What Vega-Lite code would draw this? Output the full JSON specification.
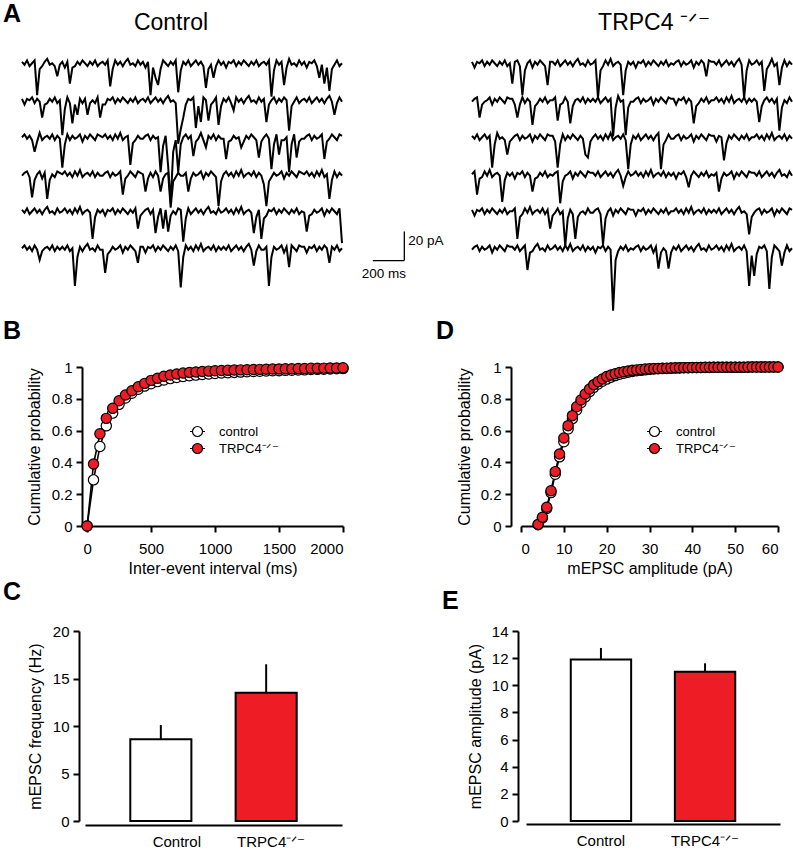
{
  "$schema": "https://vega.github.io/schema/vega-lite/v6.json",
  "padding": {"left": 3, "top": 2, "right": 2, "bottom": 0},
  "background": "white",
  "spacing": 4,
  "resolve": {"scale": {"fill": "independent"}, "legend": {"fill": "independent"}},
  "datasets": {
    "time": [{"k": 1, "t": [0,16,32,48,64,80,96,112,128,144,160,176,192,208,224,240,256,272,288,304,320,336,352,368,384,400,416,432,448,464,480,496,512,528,544,560,576,592,608,624,640,656,672,688,704,720,736,752,768,784,800,816,832,848,864,880,896,912,928,944,960,976,992,1008,1024,1040,1056,1072,1088,1104,1120,1136,1152,1168,1184,1200,1216,1232,1248,1264,1280,1296,1312,1328,1344,1360,1376,1392,1408,1424,1440,1456,1472,1488,1504,1520,1536,1552,1568,1584,1600,1616,1632,1648,1664,1680,1696,1712,1728,1744,1760,1776,1792,1808,1824,1840,1856,1872,1888,1904,1920,1936,1952,1968,1984,2000,2016,2032]}],
    "traces": [
      {"g": "Control", "r": 1, "k": 1, "v": [1,-1,2,-2,0,2,-22,-4,-2,1,3,-1,0,-2,-9,-1, 1,-3,1,-14,-3,-2,1,-1,2,0,-2,1,-1,2,-2,0, 1,-1,2,-16,-4,2,-1,1,-2,1,3,-1,0,-2,2,-1, 1,-3,1,-22,-3,-10,-15,-4,2,0,-2,1,-1,2,-20,-5, 1,-1,2,-2,0,2,-1,1,-2,-17,-4,-1,-10,-2,2,-1, 1,-3,1,0,2,-2,1,-1,2,0,-2,1,-1,2,-2,0, 1,-1,2,-23,-5,2,-1,1,-15,-3,3,-1,0,-2,2,-1, 1,-3,1,0,2,-2,-10,-1,-14,-3,-19,-4,-1,2,-2,0]},
      {"g": "Control", "r": 2, "k": 1, "v": [1,-3,1,0,2,-2,1,-1,-12,-3,-2,1,-1,2,-2,0, -24,-6,2,-2,-16,-3,-10,1,-2,1,-10,-2,0,-2,2,-12, -3,-3,1,0,2,-2,1,-1,2,0,-2,1,-1,2,-2,0, 1,-1,2,-2,0,2,-1,1,-2,1,3,-1,0,-2,-30,-20, -12,-3,1,0,2,-19,-4,-15,2,0,-14,-3,-1,2,-17,-4, 1,-1,2,-2,-7,2,-1,1,-2,1,3,-1,0,-2,2,-1, 1,-15,-3,0,2,-2,1,-1,2,0,-21,-4,-1,2,-2,0, 1,-1,2,-2,0,2,-1,1,-2,1,3,-1,-10,-2,2,-1]},
      {"g": "Control", "r": 3, "k": 1, "v": [0,2,-1,1,-2,-10,-3,3,-2,0,1,-1,2,-2,1,-1, -21,-5,2,-2,1,-1,0,2,-3,1,-1,2,0,-2,2,1, 0,2,-1,1,-2,2,-1,3,-2,0,1,-19,-4,-2,1,-1, -1,1,2,-2,1,-1,0,-24,-6,1,-20,-45,-10,-2,-24,-5, 0,2,-1,1,-13,-3,-1,3,-2,-7,1,-1,2,-2,1,-1, -1,-15,-3,-2,1,-1,0,-7,-3,1,-1,2,0,-2,-14,-3, 0,2,-1,-22,-5,2,-12,-2,-2,0,-24,-5,2,-14,-3,-1, -1,1,2,-2,1,-1,0,2,-15,-3,-1,2,0,-2,2,1]},
      {"g": "Control", "r": 4, "k": 1, "v": [-1,1,2,-2,-16,-4,0,2,-3,1,-17,-4,0,-2,2,1, 0,2,-1,1,-2,2,-1,3,-2,0,1,-1,2,-2,1,-1, -1,1,2,-2,1,-1,0,2,-14,-3,-1,2,0,-2,2,1, 0,-12,-3,1,-2,2,-1,-12,-3,0,1,-23,-5,-2,1,-1, -1,1,-12,-3,1,-1,0,2,-3,1,-1,2,0,-2,-22,-5, 0,2,-1,1,-2,2,-1,3,-2,0,1,-1,2,-2,1,-1, -7,-22,-5,-2,1,-1,0,2,-3,1,-1,2,0,-2,2,1, 0,2,-1,1,-2,2,-1,3,-2,0,-17,-4,2,-2,1,-1]},
      {"g": "Control", "r": 5, "k": 1, "v": [1,-1,2,-2,0,2,-1,1,-2,1,3,-1,0,-2,2,-1, 0,2,-1,1,-2,2,-1,3,-2,0,1,-1,-19,-4,1,-1, 1,-3,1,0,2,-2,1,-1,2,0,-2,1,-1,2,-12,-3, -1,1,2,-2,1,-15,-4,2,-12,1,-14,-3,0,-2,2,1, -21,-5,2,-2,0,2,-1,1,-2,1,3,-1,0,-2,2,-1, 0,2,-1,1,-2,2,-1,3,-2,0,1,-1,-15,-4,1,-19, -5,-3,1,0,2,-2,1,-1,2,0,-2,1,-1,2,-2,0, -1,-14,-3,-2,1,-1,0,2,-3,1,-1,2,0,-2,2,-22]},
      {"g": "Control", "r": 6, "k": 1, "v": [0,2,-1,1,-2,2,-1,-8,-2,0,1,-1,2,-2,1,-1, 1,-1,2,-2,0,-26,-6,1,-2,1,3,-1,0,-2,2,-1, -1,-17,-4,-2,1,-1,0,2,-3,1,-1,2,0,-2,-10,1, 1,-3,1,0,2,-2,1,-1,2,0,-2,1,-1,2,-2,-27, -6,2,-1,1,-2,2,-1,3,-2,0,1,-1,2,-2,1,-1, 1,-1,2,-2,0,2,-1,1,-2,1,3,-1,-12,-2,2,-1, -1,1,-26,-6,1,-1,0,2,-3,1,-13,2,0,-2,2,1, 1,-3,1,0,2,-2,1,-1,2,0,-10,1,-1,2,-2,0]},
      {"g": "TRPC4", "r": 1, "k": 1, "v": [1,-3,1,0,2,-2,1,-1,2,0,-2,1,-1,2,-2,0, -14,1,2,-2,-22,-5,0,2,-3,1,-1,2,0,-2,-15,1, 1,-1,2,-2,0,2,-1,1,-2,1,3,-1,0,-2,2,-1, 0,2,-24,-5,-2,2,-1,3,-2,0,1,-1,-22,-5,1,-1, 1,-3,1,0,2,-2,1,-1,2,0,-2,1,-1,2,-2,0, -1,1,2,-2,1,-1,0,2,-3,1,-1,2,0,-9,2,1, 1,-1,2,-2,0,2,-1,1,-2,1,3,-1,-24,-5,2,-1, 0,2,-1,1,-19,-4,-1,3,-2,0,-15,-3,2,-2,1,-1]},
      {"g": "TRPC4", "r": 2, "k": 1, "v": [-1,1,2,-12,-3,-1,0,2,-3,1,-1,2,0,-2,2,1, 1,-3,-12,-3,2,-2,1,-1,-17,-4,-2,1,-1,2,-2,0, 0,2,-14,-3,-2,2,-1,-16,-4,0,1,-1,2,-2,1,-1, 1,-1,2,-2,0,2,-1,1,-25,-5,3,-1,0,-24,-5,-1, -1,1,2,-2,1,-1,0,2,-3,1,-1,2,0,-2,2,1, 1,-3,1,0,2,-2,1,-1,-16,-4,-2,1,-1,2,-2,0, 0,2,-1,1,-2,2,-1,3,-2,0,1,-1,2,-2,1,-1, 1,-1,-15,-4,0,2,-1,1,-2,1,-21,-5,0,-2,2,-1]},
      {"g": "TRPC4", "r": 3, "k": 1, "v": [1,-1,2,-2,0,2,-1,1,-21,-5,3,-1,0,-2,-12,-3, -1,1,2,-2,1,-1,0,2,-3,1,-1,2,0,-2,2,1, 1,-3,-21,-5,2,-2,1,-1,2,0,-2,1,-1,-12,-14,-3, 0,2,-1,1,-2,2,-1,3,-2,0,1,-1,2,-2,-22,-5, 1,-1,2,-2,0,2,-1,1,-2,1,3,-22,-5,-2,2,-1, -1,1,2,-2,1,-1,0,2,-3,1,-1,2,0,-2,2,1, 1,-3,1,0,-16,-4,1,-1,2,0,-2,1,-1,2,-2,0, 0,2,-1,1,-2,2,-1,3,-2,0,1,-1,2,-2,1,-1]},
      {"g": "TRPC4", "r": 4, "k": 1, "v": [0,2,-14,-3,-2,2,-1,3,-2,0,1,-1,-19,-4,1,-1, 1,-3,1,0,2,-2,1,-1,-12,-3,-2,1,-1,2,-2,0, -1,1,2,-20,-5,-1,0,2,-3,1,-1,2,0,-2,2,1, 1,-1,2,-2,0,2,-1,1,-2,1,3,-1,-8,-2,2,-1, 0,2,-1,1,-2,2,-1,3,-2,0,1,-1,2,-2,1,-1, 1,-3,1,0,2,-2,-9,-1,2,0,-2,1,-1,2,-2,0, -1,1,-12,-3,1,-1,0,2,-3,1,-1,2,0,-2,2,1, 1,-1,2,-2,0,2,-1,1,-2,1,3,-1,0,-2,2,-1]},
      {"g": "TRPC4", "r": 5, "k": 1, "v": [1,-3,1,0,2,-2,1,-1,2,0,-2,1,-1,2,-2,0, 0,2,-19,-4,-2,2,-1,3,-2,0,1,-1,2,-2,1,-12, -3,-1,2,-2,0,-24,-5,1,-2,-19,-4,-1,0,-2,2,-1, -1,1,2,-2,-23,-5,0,2,-3,1,-1,2,0,-2,2,1, 1,-3,1,0,2,-2,1,-1,2,0,-2,1,-1,2,-2,0, 0,2,-1,1,-2,2,-1,3,-2,0,1,-1,2,-2,1,-1, 1,-1,2,-2,0,2,-1,1,-2,1,3,-1,0,-2,-16,-4, -1,1,2,-2,1,-1,0,2,-3,1,-1,2,0,-2,2,1]},
      {"g": "TRPC4", "r": 6, "k": 1, "v": [-1,1,2,-2,1,-1,0,2,-3,1,-1,2,0,-2,2,1, 1,-1,2,-2,0,2,-15,-3,-2,1,3,-1,0,-2,2,-1, 0,2,-1,1,-2,2,-1,3,-2,0,1,-1,2,-2,1,-1, 1,-3,1,0,2,-2,1,-1,-43,-8,-2,1,-1,2,-2,0, -1,1,2,-2,1,-1,0,2,-3,1,-14,-3,0,-2,-14,-3, 1,-1,2,-2,0,2,-1,1,-2,1,3,-1,0,-2,2,-1, 0,2,-1,1,-2,2,-1,3,-2,0,1,-1,2,-2,-26,-5, -19,-4,1,0,2,-2,-28,-6,2,0,-2,-12,-3,2,-2,0]}
    ],
    "cdfB": [
      {"g": "control", "x": [0,50,100,150,200,250,300,350,400,450,500,550,600,650,700,750,800,850,900,950,1000,1050,1100,1150,1200,1250,1300,1350,1400,1450,1500,1550,1600,1650,1700,1750,1800,1850,1900,1950,2000], "p": [0,0.29,0.5,0.63,0.71,0.765,0.805,0.835,0.86,0.88,0.895,0.908,0.918,0.927,0.934,0.94,0.945,0.949,0.953,0.956,0.959,0.962,0.964,0.966,0.968,0.97,0.972,0.973,0.975,0.976,0.977,0.979,0.98,0.981,0.982,0.984,0.985,0.986,0.988,0.989,0.99]},
      {"g": "TRPC4", "x": [0,50,100,150,200,250,300,350,400,450,500,550,600,650,700,750,800,850,900,950,1000,1050,1100,1150,1200,1250,1300,1350,1400,1450,1500,1550,1600,1650,1700,1750,1800,1850,1900,1950,2000], "p": [0,0.39,0.58,0.677,0.74,0.788,0.824,0.851,0.876,0.897,0.916,0.929,0.942,0.95,0.956,0.962,0.966,0.969,0.972,0.974,0.976,0.978,0.979,0.981,0.982,0.983,0.984,0.985,0.986,0.987,0.988,0.989,0.989,0.99,0.991,0.992,0.992,0.993,0.994,0.994,0.995]}
    ],
    "cdfD": [
      {"g": "control", "x": [4,5,6,7,8,9,10,11,12,13,14,15,16,17,18,19,20,21,22,23,24,25,26,27,28,29,30,31,32,33,34,35,36,37,38,39,40,41,42,43,44,45,46,47,48,49,50,51,52,53,54,55,56,57,58,59,60], "p": [0.008,0.05,0.11,0.21,0.325,0.435,0.53,0.61,0.675,0.73,0.775,0.812,0.845,0.872,0.893,0.91,0.924,0.936,0.946,0.954,0.961,0.967,0.972,0.976,0.979,0.982,0.985,0.987,0.989,0.99,0.991,0.992,0.993,0.994,0.995,0.995,0.996,0.996,0.997,0.997,0.997,0.998,0.998,0.998,0.999,0.999,0.999,0.999,0.999,0.999,1,1,1,1,1,1,1]},
      {"g": "TRPC4", "x": [4,5,6,7,8,9,10,11,12,13,14,15,16,17,18,19,20,21,22,23,24,25,26,27,28,29,30,31,32,33,34,35,36,37,38,39,40,41,42,43,44,45,46,47,48,49,50,51,52,53,54,55,56,57,58,59,60], "p": [0.01,0.055,0.118,0.222,0.342,0.453,0.553,0.631,0.694,0.75,0.792,0.83,0.862,0.889,0.908,0.925,0.94,0.95,0.958,0.965,0.97,0.975,0.979,0.982,0.985,0.987,0.989,0.99,0.991,0.992,0.993,0.994,0.995,0.995,0.996,0.996,0.997,0.997,0.997,0.998,0.998,0.998,0.998,0.999,0.999,0.999,0.999,0.999,0.999,1,1,1,1,1,1,1,1]}
    ]
  },
  "vconcat": [
    {
      "spacing": -6,
      "hconcat": [
        {"width": 17, "height": 1, "title": {"text": "A", "offset": 29}, "data": {"values": []}, "mark": {"type": "point", "opacity": 0}, "encoding": {}},
        {
          "spacing": 10,
          "hconcat": [
            {
              "title": {"text": "Control", "anchor": "middle", "frame": "bounds", "fontSize": 23, "fontWeight": "normal", "offset": 20, "dx": -11},
              "data": {"name": "traces"},
              "transform": [
                {"filter": "datum.g == 'Control'"},
                {"lookup": "k", "from": {"data": {"name": "time"}, "key": "k", "fields": ["t"]}},
                {"flatten": ["t", "v"]}
              ],
              "facet": {"row": {"field": "r", "type": "ordinal", "header": {"labels": false, "title": null}}},
              "bounds": "flush",
              "spacing": 0,
              "spec": {
                "width": 320,
                "height": 37,
                "mark": {"type": "line", "clip": false, "color": "black", "strokeWidth": 2},
                "encoding": {
                  "x": {"field": "t", "type": "quantitative", "scale": {"domain": [0, 2032], "nice": false, "zero": false}, "axis": null},
                  "y": {"field": "v", "type": "quantitative", "scale": {"domain": [-20.5, 5], "nice": false, "zero": false}, "axis": null}
                }
              }
            },
            {
              "width": 102,
              "height": 222,
              "layer": [
                {
                  "data": {"values": [{"x": 107, "x2": 307, "y": 12, "y2": 12}, {"x": 307, "x2": 307, "y": 12, "y2": 32}]},
                  "mark": {"type": "rule", "color": "black", "strokeWidth": 1.3},
                  "encoding": {
                    "x": {"field": "x", "type": "quantitative", "scale": {"domain": [0, 648], "nice": false, "zero": false}, "axis": null},
                    "x2": {"field": "x2"},
                    "y": {"field": "y", "type": "quantitative", "scale": {"domain": [0, 153], "nice": false, "zero": false}, "axis": null},
                    "y2": {"field": "y2"}
                  }
                },
                {
                  "data": {"values": [{"x": 107, "y": 12, "lab": "200 ms"}]},
                  "mark": {"type": "text", "align": "left", "baseline": "top", "dx": -11, "dy": 6, "fontSize": 13.5},
                  "encoding": {
                    "x": {"field": "x", "type": "quantitative"},
                    "y": {"field": "y", "type": "quantitative"},
                    "text": {"field": "lab"}
                  }
                },
                {
                  "data": {"values": [{"x": 307, "y": 32, "lab": "20 pA"}]},
                  "mark": {"type": "text", "align": "left", "baseline": "top", "dx": 4, "dy": 2, "fontSize": 13.5},
                  "encoding": {
                    "x": {"field": "x", "type": "quantitative"},
                    "y": {"field": "y", "type": "quantitative"},
                    "text": {"field": "lab"}
                  }
                }
              ]
            },
            {
              "title": {"text": "TRPC4 ⁻ᐟ⁻", "anchor": "middle", "frame": "bounds", "fontSize": 23, "fontWeight": "normal", "offset": 20, "dx": 22},
              "data": {"name": "traces"},
              "transform": [
                {"filter": "datum.g == 'TRPC4'"},
                {"lookup": "k", "from": {"data": {"name": "time"}, "key": "k", "fields": ["t"]}},
                {"flatten": ["t", "v"]}
              ],
              "facet": {"row": {"field": "r", "type": "ordinal", "header": {"labels": false, "title": null}}},
              "bounds": "flush",
              "spacing": 0,
              "spec": {
                "width": 320,
                "height": 37,
                "mark": {"type": "line", "clip": false, "color": "black", "strokeWidth": 2},
                "encoding": {
                  "x": {"field": "t", "type": "quantitative", "scale": {"domain": [0, 2032], "nice": false, "zero": false}, "axis": null},
                  "y": {"field": "v", "type": "quantitative", "scale": {"domain": [-20.5, 5], "nice": false, "zero": false}, "axis": null}
                }
              }
            }
          ]
        }
      ]
    },
    {
      "spacing": 4,
      "resolve": {"scale": {"fill": "independent"}, "legend": {"fill": "independent"}},
      "hconcat": [
        {"width": 17, "height": 1, "title": {"text": "B", "offset": 23}, "data": {"values": []}, "mark": {"type": "point", "opacity": 0}, "encoding": {}},
        {
          "spacing": 85,
          "resolve": {"scale": {"fill": "independent"}, "legend": {"fill": "independent"}},
          "hconcat": [
            {
              "width": 261,
              "height": 159,
              "data": {"name": "cdfB"},
              "transform": [{"flatten": ["x", "p"]}],
              "encoding": {
                "x": {"field": "x", "type": "quantitative", "scale": {"domain": [-40, 2000], "nice": false, "zero": false}, "axis": {"values": [0, 500, 1000, 1500, 2000], "format": "d", "title": "Inter-event interval (ms)"}},
                "y": {"field": "p", "type": "quantitative", "scale": {"domain": [0, 1], "nice": false}, "axis": {"values": [0, 0.2, 0.4, 0.6, 0.8, 1], "format": "~g", "title": "Cumulative probability", "titlePadding": 9}}
              },
              "layer": [
                {"mark": {"type": "line", "color": "black", "strokeWidth": 1.6}, "encoding": {"detail": {"field": "g"}}},
                {
                  "mark": {"type": "point", "shape": "circle", "size": 105, "filled": true, "stroke": "black", "strokeWidth": 1.2, "opacity": 1},
                  "encoding": {
                    "fill": {"field": "g", "type": "nominal", "scale": {"domain": ["control", "TRPC4"], "range": ["white", "#ee1c25"]},
                      "legend": {"orient": "none", "legendX": 109, "legendY": 58, "title": null, "padding": 0, "symbolType": "M-1.5,0L-1,0M1,0L1.5,0M-1,0A1,1 0 1,1 1,0A1,1 0 1,1 -1,0Z", "symbolSize": 100, "symbolStrokeColor": "black", "symbolStrokeWidth": 1.2, "labelFontSize": 13, "labelColor": "black", "labelOffset": 15, "rowPadding": 2, "labelExpr": "datum.label == 'TRPC4' ? 'TRPC4⁻ᐟ⁻' : datum.label"}}
                  }
                }
              ]
            },
            {
              "title": {"text": "D", "dx": -85, "offset": 15},
              "width": 257,
              "height": 159,
              "data": {"name": "cdfD"},
              "transform": [{"flatten": ["x", "p"]}],
              "encoding": {
                "x": {"field": "x", "type": "quantitative", "scale": {"domain": [0, 60], "nice": false, "zero": false}, "axis": {"values": [0, 10, 20, 30, 40, 50, 60], "title": "mEPSC amplitude (pA)"}},
                "y": {"field": "p", "type": "quantitative", "scale": {"domain": [0, 1], "nice": false}, "axis": {"values": [0, 0.2, 0.4, 0.6, 0.8, 1], "format": "~g", "title": "Cumulative probability", "offset": 10, "titlePadding": 8}}
              },
              "layer": [
                {"mark": {"type": "line", "color": "black", "strokeWidth": 1.6}, "encoding": {"detail": {"field": "g"}}},
                {
                  "mark": {"type": "point", "shape": "circle", "size": 105, "filled": true, "stroke": "black", "strokeWidth": 1.2, "opacity": 1},
                  "encoding": {
                    "fill": {"field": "g", "type": "nominal", "scale": {"domain": ["control", "TRPC4"], "range": ["white", "#ee1c25"]},
                      "legend": {"orient": "none", "legendX": 127, "legendY": 58, "title": null, "padding": 0, "symbolType": "M-1.5,0L-1,0M1,0L1.5,0M-1,0A1,1 0 1,1 1,0A1,1 0 1,1 -1,0Z", "symbolSize": 100, "symbolStrokeColor": "black", "symbolStrokeWidth": 1.2, "labelFontSize": 13, "labelColor": "black", "labelOffset": 15, "rowPadding": 2, "labelExpr": "datum.label == 'TRPC4' ? 'TRPC4⁻ᐟ⁻' : datum.label"}}
                  }
                }
              ]
            }
          ]
        }
      ]
    },
    {
      "spacing": 5,
      "resolve": {"scale": {"fill": "independent"}, "legend": {"fill": "independent"}},
      "hconcat": [
        {"width": 17, "height": 1, "title": {"text": "C", "offset": 26}, "data": {"values": []}, "mark": {"type": "point", "opacity": 0}, "encoding": {}},
        {
          "spacing": 100,
          "resolve": {"scale": {"fill": "independent"}, "legend": {"fill": "independent"}},
          "hconcat": [
            {
              "width": 257,
              "height": 190,
              "data": {"values": [{"g": "Control", "m": 8.6, "hi": 10.1}, {"g": "TRPC4", "m": 13.5, "hi": 16.5}]},
              "encoding": {
                "x": {"field": "g", "type": "nominal", "sort": ["Control", "TRPC4"], "scale": {"paddingInner": 0.42, "paddingOuter": 0.43}, "axis": {"title": null, "ticks": false, "labelAngle": 0, "labelPadding": 9, "offset": 4, "labelOffset": {"condition": {"test": "datum.value == 'Control'", "value": 16}, "value": 5}, "labelExpr": "datum.label == 'TRPC4' ? 'TRPC4⁻ᐟ⁻' : datum.label"}},
                "y": {"field": "m", "type": "quantitative", "scale": {"domain": [0, 20], "nice": false}, "axis": {"values": [0, 5, 10, 15, 20], "title": "mEPSC frequency (Hz)", "offset": 6, "titlePadding": 9, "labelOverlap": false}}
              },
              "layer": [
                {"mark": {"type": "rule", "color": "black", "strokeWidth": 2}, "encoding": {"y2": {"field": "hi"}}},
                {
                  "mark": {"type": "bar", "stroke": "black", "strokeWidth": 2},
                  "encoding": {"fill": {"field": "g", "type": "nominal", "scale": {"domain": ["Control", "TRPC4"], "range": ["white", "#ee1c25"]}, "legend": null}}
                }
              ]
            },
            {
              "title": {"text": "E", "dx": -84, "offset": 10},
              "width": 254,
              "height": 190,
              "data": {"values": [{"g": "Control", "m": 11.9, "hi": 12.75}, {"g": "TRPC4", "m": 11.0, "hi": 11.62}]},
              "encoding": {
                "x": {"field": "g", "type": "nominal", "sort": ["Control", "TRPC4"], "scale": {"paddingInner": 0.42, "paddingOuter": 0.43}, "axis": {"title": null, "ticks": false, "labelAngle": 0, "labelPadding": 9, "offset": 3, "labelExpr": "datum.label == 'TRPC4' ? 'TRPC4⁻ᐟ⁻' : datum.label"}},
                "y": {"field": "m", "type": "quantitative", "scale": {"domain": [0, 14], "nice": false}, "axis": {"values": [0, 2, 4, 6, 8, 10, 12, 14], "title": "mEPSC amplitude (pA)", "offset": 8, "titlePadding": 8, "labelOverlap": false}}
              },
              "layer": [
                {"mark": {"type": "rule", "color": "black", "strokeWidth": 2}, "encoding": {"y2": {"field": "hi"}}},
                {
                  "mark": {"type": "bar", "stroke": "black", "strokeWidth": 2},
                  "encoding": {"fill": {"field": "g", "type": "nominal", "scale": {"domain": ["Control", "TRPC4"], "range": ["white", "#ee1c25"]}, "legend": null}}
                }
              ]
            }
          ]
        }
      ]
    }
  ],
  "config": {
    "view": {"stroke": null},
    "font": "Liberation Sans",
    "axis": {"domainColor": "black", "domainWidth": 2, "tickColor": "black", "tickWidth": 2, "tickSize": 6, "labelColor": "black", "labelFontSize": 15, "labelFont": "Liberation Sans", "titleFont": "Liberation Sans", "titleFontSize": 16, "titleFontWeight": "normal", "titleColor": "black", "grid": false, "labelPadding": 4},
    "axisX": {"labelPadding": 9, "titlePadding": 4},
    "axisY": {"titlePadding": 6},
    "title": {"fontSize": 25, "fontWeight": "bold", "color": "black", "font": "Liberation Sans", "anchor": "start", "frame": "group"},
    "text": {"font": "Liberation Sans", "fontSize": 15, "color": "black"}
  }
}
